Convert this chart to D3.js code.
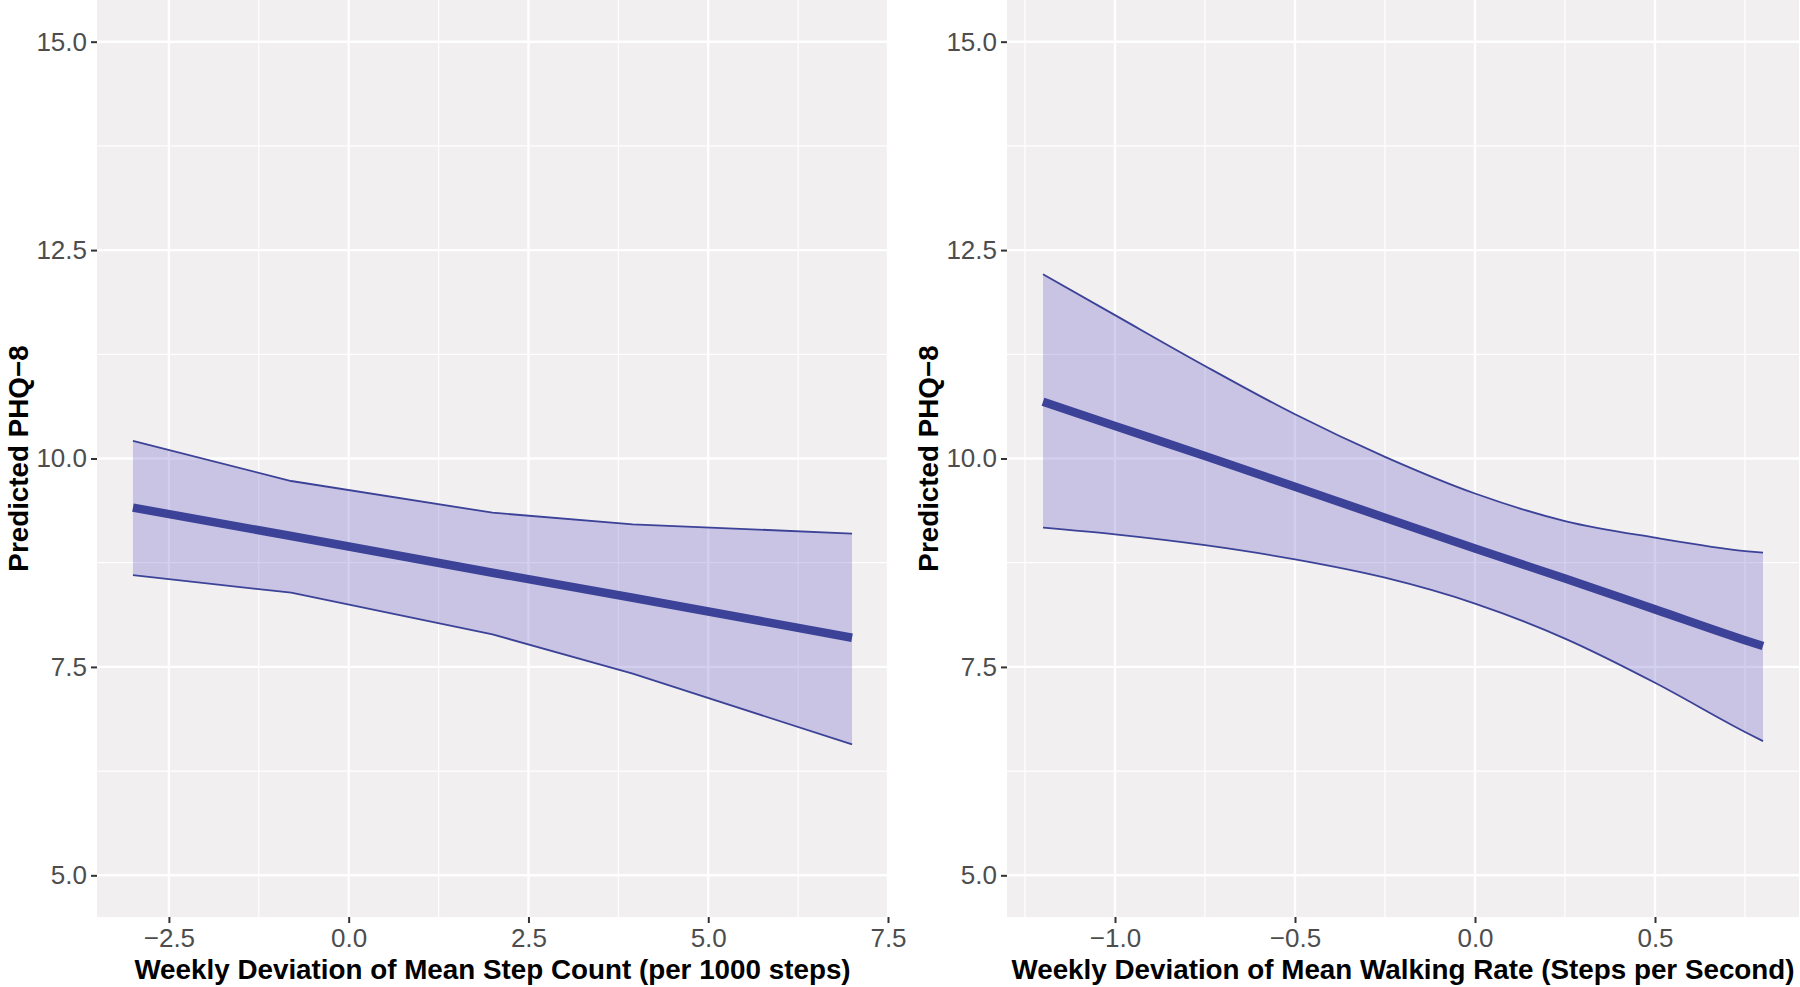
<!DOCTYPE html>
<html>
<head>
<meta charset="utf-8">
<script src="https://cdn.jsdelivr.net/npm/d3@7"></script>
<style>
  html, body { margin: 0; padding: 0; background: #ffffff; }
  svg { display: block; }
  text { font-family: "Liberation Sans", Arial, Helvetica, sans-serif; }
</style>
</head>
<body>
<script>
// ---------- data ----------
// Panel 1: weekly deviation of mean step count (per 1000 steps)
const stepX     = [-3.0, -0.8, 2.0, 3.95, 7.0];
const stepFit   = [9.41, 9.07, 8.63, 8.33, 7.85];
const stepUpper = [10.21, 9.73, 9.35, 9.21, 9.10];
const stepLower = [8.60, 8.39, 7.89, 7.42, 6.57];

// Panel 2: weekly deviation of mean walking rate (steps per second)
const rateX     = [-1.2, -1.0, -0.75, -0.5, -0.25, 0.0, 0.25, 0.5, 0.75, 0.8];
const rateFit   = [10.68, 10.39, 10.03, 9.66, 9.29, 8.92, 8.56, 8.19, 7.82, 7.75];
const rateUpper = [12.21, 11.72, 11.11, 10.53, 10.02, 9.58, 9.25, 9.05, 8.89, 8.87];
const rateLower = [9.17, 9.09, 8.96, 8.79, 8.57, 8.26, 7.84, 7.31, 6.72, 6.61];

// axes
const yTicks = [5.0, 7.5, 10.0, 12.5, 15.0];
const yMinor = [6.25, 8.75, 11.25, 13.75];
const yDomain = [4.5, 15.5];

const stepTicks = [-2.5, 0.0, 2.5, 5.0, 7.5];
const stepMinor = [-1.25, 1.25, 3.75, 6.25];
const stepDomain = [-3.5, 7.5];

const rateTicks = [-1.0, -0.5, 0.0, 0.5];
const rateMinor = [-1.25, -0.75, -0.25, 0.25, 0.75];
const rateDomain = [-1.3, 0.9];

const yTitle = "Predicted PHQ\u22128";
const stepTitle = "Weekly Deviation of Mean Step Count (per 1000 steps)";
const rateTitle = "Weekly Deviation of Mean Walking Rate (Steps per Second)";

// ---------- drawing ----------
const W = 1800, H = 987;
const svg = d3.select("body").append("svg").attr("width", W).attr("height", H);

const fmt = v => d3.format(".1f")(v).replace("-", "\u2212");

function panel(opts) {
  const { left, right, top, bottom, xDomain, xTicks, xMinor, xs, fit, upper, lower, xTitle, curve } = opts;
  const x = d3.scaleLinear().domain(xDomain).range([left, right]);
  const y = d3.scaleLinear().domain(yDomain).range([bottom, top]);
  const g = svg.append("g");

  // background
  g.append("rect").attr("x", left).attr("y", top)
    .attr("width", right - left).attr("height", bottom - top)
    .attr("fill", "#F1EFF0");

  // minor grid
  g.selectAll(".ym").data(yMinor).join("line")
    .attr("x1", left).attr("x2", right)
    .attr("y1", d => y(d)).attr("y2", d => y(d))
    .attr("stroke", "#ffffff").attr("stroke-width", 1.2);
  g.selectAll(".xm").data(xMinor).join("line")
    .attr("y1", top).attr("y2", bottom)
    .attr("x1", d => x(d)).attr("x2", d => x(d))
    .attr("stroke", "#ffffff").attr("stroke-width", 1.2);
  // major grid
  g.selectAll(".yM").data(yTicks).join("line")
    .attr("x1", left).attr("x2", right)
    .attr("y1", d => y(d)).attr("y2", d => y(d))
    .attr("stroke", "#ffffff").attr("stroke-width", 2.4);
  g.selectAll(".xM").data(xTicks).join("line")
    .attr("y1", top).attr("y2", bottom)
    .attr("x1", d => x(d)).attr("x2", d => x(d))
    .attr("stroke", "#ffffff").attr("stroke-width", 2.4);

  const pts = xs.map((v, i) => ({ x: v, fit: fit[i], lo: lower[i], hi: upper[i] }));

  // ribbon
  g.append("path").datum(pts)
    .attr("d", d3.area().curve(curve).x(d => x(d.x)).y0(d => y(d.lo)).y1(d => y(d.hi)))
    .attr("fill", "rgb(110,96,200)").attr("fill-opacity", 0.3);
  const edge = key => d3.line().curve(curve).x(d => x(d.x)).y(d => y(d[key]));
  ["lo", "hi"].forEach(k => {
    g.append("path").datum(pts).attr("d", edge(k))
      .attr("fill", "none").attr("stroke", "#3B4297").attr("stroke-width", 1.8);
  });
  // fitted line
  g.append("path").datum(pts).attr("d", edge("fit"))
    .attr("fill", "none").attr("stroke", "#3B4297").attr("stroke-width", 8.5);

  // y axis
  const ya = d3.axisLeft(y).tickValues(yTicks).tickSize(6).tickPadding(4).tickFormat(fmt);
  const yg = g.append("g").attr("transform", `translate(${left},0)`).call(ya);
  yg.select(".domain").remove();
  yg.selectAll(".tick line").attr("stroke", "#333333").attr("stroke-width", 2);
  yg.selectAll(".tick text").attr("fill", "#4D4D4D").attr("font-size", 26)
    .attr("font-family", "'Liberation Sans', Arial, sans-serif");

  // x axis
  const xa = d3.axisBottom(x).tickValues(xTicks).tickSize(6).tickPadding(6).tickFormat(fmt);
  const xg = g.append("g").attr("transform", `translate(0,${bottom})`).call(xa);
  xg.select(".domain").remove();
  xg.selectAll(".tick line").attr("stroke", "#333333").attr("stroke-width", 2);
  xg.selectAll(".tick text").attr("fill", "#4D4D4D").attr("font-size", 26)
    .attr("font-family", "'Liberation Sans', Arial, sans-serif");

  // titles
  g.append("text").attr("x", (left + right) / 2).attr("y", 979)
    .attr("text-anchor", "middle").attr("font-size", 27.8).attr("font-weight", "bold")
    .attr("fill", "#000").text(xTitle);
  g.append("text")
    .attr("transform", `translate(${left - 69},${(top + bottom) / 2}) rotate(-90)`)
    .attr("text-anchor", "middle").attr("font-size", 27.8).attr("font-weight", "bold")
    .attr("fill", "#000").text(yTitle);
}

panel({
  left: 97, right: 888, top: 0, bottom: 917,
  xDomain: stepDomain, xTicks: stepTicks, xMinor: stepMinor,
  xs: stepX, fit: stepFit, upper: stepUpper, lower: stepLower,
  xTitle: stepTitle, curve: d3.curveLinear
});
panel({
  left: 1007, right: 1799, top: 0, bottom: 917,
  xDomain: rateDomain, xTicks: rateTicks, xMinor: rateMinor,
  xs: rateX, fit: rateFit, upper: rateUpper, lower: rateLower,
  xTitle: rateTitle, curve: d3.curveMonotoneX
});
</script>
</body>
</html>
